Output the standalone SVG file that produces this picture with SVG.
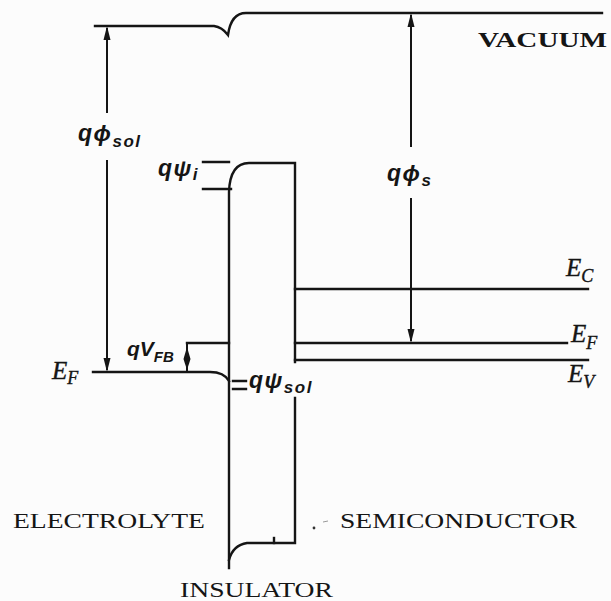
<svg xmlns="http://www.w3.org/2000/svg" width="611" height="601" viewBox="0 0 611 601">
<style>
.ln{fill:none;stroke:#151515;stroke-width:2.4;stroke-linecap:square}
.ar{fill:none;stroke:#151515;stroke-width:2}
.hd{fill:#151515;stroke:none}
.cap{font-family:"Liberation Serif","Times New Roman",serif;font-size:22px;fill:#151515}
.sym{font-family:"Liberation Sans",Arial,sans-serif;font-style:italic;font-weight:bold;font-size:23px;letter-spacing:1.5px;fill:#151515}
.sub{font-size:17px}
.en{font-family:"Liberation Serif","Times New Roman",serif;font-style:italic;font-size:25px;fill:#151515;stroke:#151515;stroke-width:0.4}
.ensub{font-size:18px}
</style>
<rect width="611" height="601" fill="#fcfcfc"/>
<g id="vacuum">
<path class="ln" d="M95,26 L214,26 Q222,27 228,35 Q231,13 246,13 L602,13"/>
<text class="cap" font-weight="bold" x="478" y="47" textLength="129" lengthAdjust="spacingAndGlyphs">VACUUM</text>
</g>
<g id="electrolyte">
<path class="ln" d="M93,372 L210,372 Q224,372 229,381"/>
<text class="en" x="52" y="379">E<tspan class="ensub" dy="5">F</tspan></text>
<text class="cap" x="13" y="528" textLength="192" lengthAdjust="spacingAndGlyphs">ELECTROLYTE</text>
</g>
<g id="insulator">
<path class="ln" d="M229,568 L229,192 Q230,163 249,163 L295,163 L295,362"/>
<path class="ln" d="M295,398 L295,543 L247,543 Q233,545 229,560"/>
<path class="ln" d="M274,538 L274,543" stroke-width="1.5"/>
<text class="cap" x="180" y="597" textLength="153" lengthAdjust="spacingAndGlyphs">INSULATOR</text>
</g>
<g id="psi-i">
<path class="ln" d="M203,162 L229,162 M203,189 L231,189"/>
<text class="sym" x="158" y="176">qψ<tspan class="sub" dy="4">i</tspan></text>
</g>
<g id="psi-sol">
<path class="ln" d="M233,381 L246,381 M233,389 L246,389" stroke-width="2.2"/>
<text class="sym" x="249" y="388">qψ<tspan class="sub" dy="5">sol</tspan></text>
</g>
<g id="semiconductor">
<path class="ln" d="M295,289 L588,289"/>
<path class="ln" d="M295,343 L567,343"/>
<path class="ln" d="M295,360 L588,360"/>
<text class="en" x="566" y="276">E<tspan class="ensub" dy="6">C</tspan></text>
<text class="en" x="571" y="342">E<tspan class="ensub" dy="7">F</tspan></text>
<text class="en" x="568" y="382">E<tspan class="ensub" dy="6">V</tspan></text>
<text class="cap" x="340" y="528" textLength="237" lengthAdjust="spacingAndGlyphs">SEMICONDUCTOR</text>
<circle cx="314" cy="528" r="1.4" fill="#333"/>
<path d="M323,522 L328,521" stroke="#999" stroke-width="1"/>
</g>
<g id="vfb">
<path class="ln" d="M187,343 L229,343"/>
<text class="sym" x="127" y="356" style="font-size:21px;letter-spacing:0">qV<tspan style="font-size:15px" dy="6">FB</tspan></text>
</g>
<g id="connectors">
<path class="ar" d="M107,28 L107,113 M107,160 L107,370"/>
<polygon class="hd" points="107,26 103.5,40 110.5,40"/>
<polygon class="hd" points="107,372 103.5,358 110.5,358"/>
<path class="ar" d="M411,15 L411,147 M411,198 L411,341"/>
<polygon class="hd" points="411,13 407.5,27 414.5,27"/>
<polygon class="hd" points="411,343 407.5,329 414.5,329"/>
<path class="ar" d="M187,343 L187,372"/>
<polygon class="hd" points="187,347 190.5,359 187,370 183.5,359"/>
</g>
<g id="phi-labels">
<text class="sym" x="78" y="141">qϕ<tspan class="sub" dy="6">sol</tspan></text>
<text class="sym" x="387" y="181">qϕ<tspan class="sub" dy="5">s</tspan></text>
</g>
</svg>
